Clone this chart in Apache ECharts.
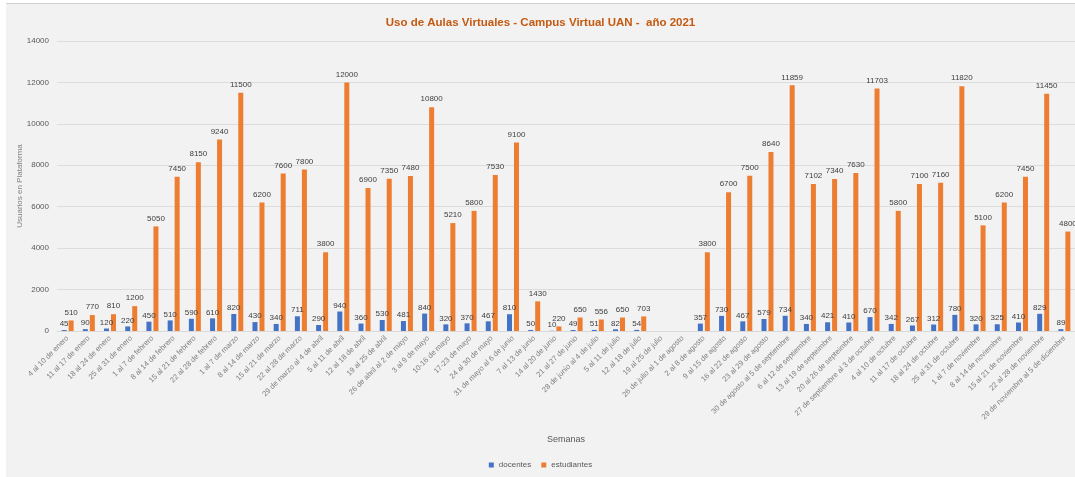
<!DOCTYPE html>
<html>
<head>
<meta charset="utf-8">
<script src="https://cdn.jsdelivr.net/npm/echarts@6/dist/echarts.min.js"></script>
<style>
  html, body { margin: 0; padding: 0; background: #ffffff; }
  #chartBox {
    position: absolute; left: 6px; top: 3px;
    width: 1069px; height: 474px;
    background: #f2f2f2;
    border-top: 1px solid #d0d0d0;
  }
</style>
</head>
<body>
<div id="chartBox"></div>
<script>
// semanas
const semanas = [
  '4 al 10 de enero', '11 al 17 de enero', '18 al 24 de enero', '25 al 31 de enero',
  '1 al 7 de febrero', '8 al 14 de febrero', '15 al 21 de febrero', '22 al 28 de febrero',
  '1 al 7 de marzo', '8 al 14 de marzo', '15 al 21 de marzo', '22 al 28 de marzo',
  '29 de marzo al 4 de abril', '5 al 11 de abril', '12 al 18 de abril', '19 al 25 de abril',
  '26 de abril al 2 de mayo', '3 al 9 de mayo', '10-16 de mayo', '17-23 de mayo',
  '24 al 30 de mayo', '31 de mayo al 6 de junio', '7 al 13 de junio', '14 al 20 de junio',
  '21 al 27 de junio', '28 de junio al 4 de julio', '5 al 11 de julio', '12 al 18 de julio',
  '19 al 25 de julio', '26 de julio al 1 de agosto', '2 al 8 de agosto', '9 al 15 de agosto',
  '16 al 22 de agosto', '23 al 29 de agosto', '30 de agosto al 5 de septiembre', '6 al 12 de septiembre',
  '13 al 19 de septeimbre', '20 al 26 de septeimbre', '27 de septiembre al 3 de octubre', '4 al 10 de octubre',
  '11 al 17 de octubre', '18 al 24 de octubre', '25 al 31 de octubre', '1 al 7 de noviembre',
  '8 al 14 de noviembre', '15 al 21 de noviembre', '22 al 28 de noviembre', '29 de noviembre al 5 de diciembre'
]
const docentes = [
  45, 90, 120, 220, 450, 510, 590, 610, 820, 430, 340, 711,
  290, 940, 360, 530, 481, 840, 320, 370, 467, 810, 50, 10,
  49, 51, 82, 54, null, null, 357, 730, 467, 579, 734, 340,
  421, 410, 670, 342, 267, 312, 780, 320, 325, 410, 829, 89
]
const estudiantes = [
  510, 770, 810, 1200, 5050, 7450, 8150, 9240, 11500, 6200, 7600, 7800,
  3800, 12000, 6900, 7350, 7480, 10800, 5210, 5800, 7530, 9100, 1430, 220,
  650, 556, 650, 703, null, null, 3800, 6700, 7500, 8640, 11859, 7102,
  7340, 7630, 11703, 5800, 7100, 7160, 11820, 5100, 6200, 7450, 11450, 4800
]
const yTicks = { min: 0, max: 14000, interval: 2000 }

const font = "'Liberation Sans', sans-serif"
let myChart = echarts.init(document.getElementById('chartBox'))
myChart.setOption({
  textStyle: { fontFamily: font },
  title: {
    text: 'Uso de Aulas Virtuales - Campus Virtual UAN -  año 2021',
    left: 'center',
    top: 8,
    textStyle: { color: '#c55a11', fontSize: 11.5, fontWeight: 'bold', fontFamily: font }
  },
  legend: {
    bottom: 4,
    left: 'center',
    icon: 'rect',
    itemWidth: 5,
    itemHeight: 5,
    itemGap: 10,
    textStyle: { color: '#595959', fontSize: 8 },
    data: ['docentes', 'estudiantes']
  },
  grid: { left: 51, right: 0, top: 37, bottom: 147, outerBoundsMode: 'none' },
  xAxis: {
    type: 'category',
    data: semanas,
    name: 'Semanas',
    nameLocation: 'middle',
    nameGap: 104,
    nameMoveOverlap: false,
    nameTextStyle: { color: '#595959', fontSize: 9 },
    axisTick: { show: false },
    axisLine: { lineStyle: { color: '#d9d9d9' } },
    axisLabel: { rotate: 45, interval: 0, fontSize: 7.5, color: '#7f7f7f', margin: 6 }
  },
  yAxis: {
    type: 'value',
    min: yTicks.min,
    max: yTicks.max,
    interval: yTicks.interval,
    name: 'Usuarios en Plataforma',
    nameLocation: 'middle',
    nameGap: 33,
    nameMoveOverlap: false,
    nameTextStyle: { color: '#7f7f7f', fontSize: 8 },
    axisLabel: { fontSize: 8, color: '#595959', margin: 8, formatter: v => String(v) },
    splitLine: { lineStyle: { color: '#dcdcdc' } }
  },
  series: [
    {
      name: 'docentes',
      type: 'bar',
      barWidth: 5,
      barGap: '40%',
      itemStyle: { color: '#4472c4' },
      label: { show: true, position: 'top', fontSize: 8, color: '#404040', distance: 2 },
      data: docentes
    },
    {
      name: 'estudiantes',
      type: 'bar',
      barWidth: 5,
      itemStyle: { color: '#ed7d31' },
      label: { show: true, position: 'top', fontSize: 8, color: '#404040', distance: 4 },
      data: estudiantes
    }
  ]
})
</script>
</body>
</html>
